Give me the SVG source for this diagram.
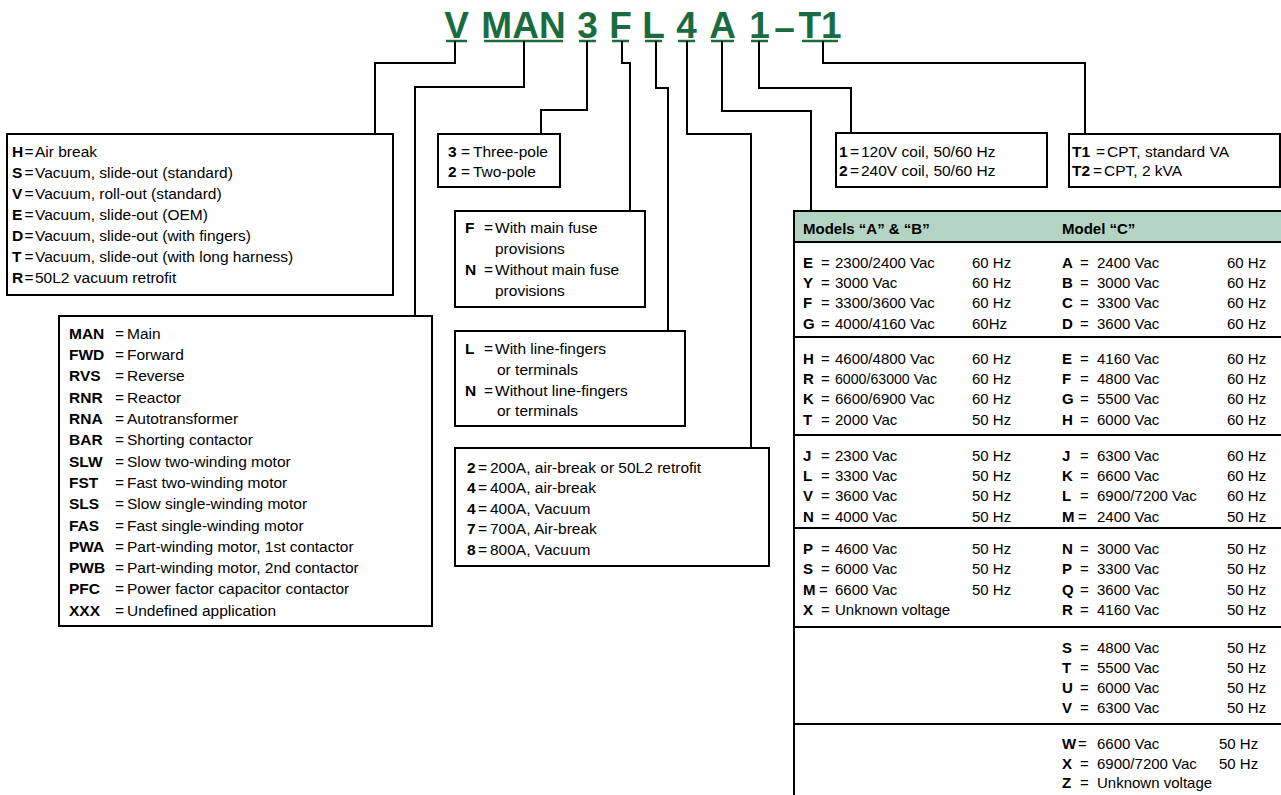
<svg xmlns="http://www.w3.org/2000/svg" width="1281" height="795" viewBox="0 0 1281 795">
<style>
text{font-family:"Liberation Sans",Arial,sans-serif;font-size:15.5px;fill:#000}
.tb text{font-size:15px}
.b{font-weight:bold}
.title{font-family:"Liberation Sans",Arial,sans-serif;font-size:37px;font-weight:bold;fill:#1b6b41;text-anchor:middle}
.ul{stroke:#1b6b41;stroke-width:2.5;fill:none}
.box{fill:#fff;stroke:#000;stroke-width:2}
.con{fill:none;stroke:#000;stroke-width:2}
.sep{stroke:#000;stroke-width:2}
</style>
<rect width="1281" height="795" fill="#fff"/>
<g id="title">
<text class="title" x="456.5" y="38">V</text>
<text class="title" x="523.5" y="38">MAN</text>
<text class="title" x="587.5" y="38">3</text>
<text class="title" x="620.5" y="38">F</text>
<text class="title" x="653.5" y="38">L</text>
<text class="title" x="686.5" y="38">4</text>
<text class="title" x="722.5" y="38">A</text>
<text class="title" x="759.5" y="38">1</text>
<text class="title" x="784.5" y="40">–</text>
<text class="title" x="820" y="38">T1</text>
<path class="ul" d="M446,41H467M484,41H563M579,41H596M612,41H629M645,41H662M678,41H695M711,41H734M751,41H768M802,41H838"/>
</g>
<g id="connectors">
<path class="con" d="M455,41V63H375V134"/>
<path class="con" d="M524,41V87H415V316"/>
<path class="con" d="M587,41V110H541V134"/>
<path class="con" d="M622,41V63H630V211"/>
<path class="con" d="M656,41V88H668V331"/>
<path class="con" d="M687,41V134H751V448"/>
<path class="con" d="M722,41V111H811V211"/>
<path class="con" d="M759,41V88H851V133"/>
<path class="con" d="M823,41V63H1085V134"/>
</g>
<g id="box-type">
<rect class="box" x="7" y="134" width="386" height="161"/>
<text y="157"><tspan x="12" class="b">H</tspan><tspan x="24.5">=</tspan><tspan x="35">Air break</tspan></text>
<text y="178"><tspan x="12" class="b">S</tspan><tspan x="24.5">=</tspan><tspan x="35">Vacuum, slide-out (standard)</tspan></text>
<text y="199"><tspan x="12" class="b">V</tspan><tspan x="24.5">=</tspan><tspan x="35">Vacuum, roll-out (standard)</tspan></text>
<text y="220"><tspan x="12" class="b">E</tspan><tspan x="24.5">=</tspan><tspan x="35">Vacuum, slide-out (OEM)</tspan></text>
<text y="241"><tspan x="12" class="b">D</tspan><tspan x="24.5">=</tspan><tspan x="35">Vacuum, slide-out (with fingers)</tspan></text>
<text y="262"><tspan x="12" class="b">T</tspan><tspan x="24.5">=</tspan><tspan x="35">Vacuum, slide-out (with long harness)</tspan></text>
<text y="283"><tspan x="12" class="b">R</tspan><tspan x="24.5">=</tspan><tspan x="35">50L2 vacuum retrofit</tspan></text>
</g>
<g id="box-application">
<rect class="box" x="59" y="316" width="373" height="310"/>
<text y="338.8"><tspan x="69" class="b">MAN</tspan><tspan x="115">=</tspan><tspan x="127">Main</tspan></text>
<text y="360.1"><tspan x="69" class="b">FWD</tspan><tspan x="115">=</tspan><tspan x="127">Forward</tspan></text>
<text y="381.4"><tspan x="69" class="b">RVS</tspan><tspan x="115">=</tspan><tspan x="127">Reverse</tspan></text>
<text y="402.7"><tspan x="69" class="b">RNR</tspan><tspan x="115">=</tspan><tspan x="127">Reactor</tspan></text>
<text y="424"><tspan x="69" class="b">RNA</tspan><tspan x="115">=</tspan><tspan x="127">Autotransformer</tspan></text>
<text y="445.3"><tspan x="69" class="b">BAR</tspan><tspan x="115">=</tspan><tspan x="127">Shorting contactor</tspan></text>
<text y="466.6"><tspan x="69" class="b">SLW</tspan><tspan x="115">=</tspan><tspan x="127">Slow two-winding motor</tspan></text>
<text y="487.9"><tspan x="69" class="b">FST</tspan><tspan x="115">=</tspan><tspan x="127">Fast two-winding motor</tspan></text>
<text y="509.2"><tspan x="69" class="b">SLS</tspan><tspan x="115">=</tspan><tspan x="127">Slow single-winding motor</tspan></text>
<text y="530.5"><tspan x="69" class="b">FAS</tspan><tspan x="115">=</tspan><tspan x="127">Fast single-winding motor</tspan></text>
<text y="551.8"><tspan x="69" class="b">PWA</tspan><tspan x="115">=</tspan><tspan x="127">Part-winding motor, 1st contactor</tspan></text>
<text y="573.1"><tspan x="69" class="b">PWB</tspan><tspan x="115">=</tspan><tspan x="127">Part-winding motor, 2nd contactor</tspan></text>
<text y="594.4"><tspan x="69" class="b">PFC</tspan><tspan x="115">=</tspan><tspan x="127">Power factor capacitor contactor</tspan></text>
<text y="615.7"><tspan x="69" class="b">XXX</tspan><tspan x="115">=</tspan><tspan x="127">Undefined application</tspan></text>
</g>
<g id="box-poles">
<rect class="box" x="438" y="134" width="122" height="53"/>
<text y="156.5"><tspan x="448" class="b">3</tspan><tspan x="461">=</tspan><tspan x="473">Three-pole</tspan></text>
<text y="177"><tspan x="448" class="b">2</tspan><tspan x="461">=</tspan><tspan x="473">Two-pole</tspan></text>
</g>
<g id="box-fuse">
<rect class="box" x="455" y="211" width="190" height="96"/>
<text y="233"><tspan x="465" class="b">F</tspan><tspan x="484">=</tspan><tspan x="495">With main fuse</tspan></text>
<text y="254"><tspan x="495">provisions</tspan></text>
<text y="275"><tspan x="465" class="b">N</tspan><tspan x="484">=</tspan><tspan x="495">Without main fuse</tspan></text>
<text y="296"><tspan x="495">provisions</tspan></text>
</g>
<g id="box-line">
<rect class="box" x="455" y="331" width="230" height="95"/>
<text y="354"><tspan x="465" class="b">L</tspan><tspan x="484">=</tspan><tspan x="495">With line-fingers</tspan></text>
<text y="374.5"><tspan x="497">or terminals</tspan></text>
<text y="395.5"><tspan x="465" class="b">N</tspan><tspan x="484">=</tspan><tspan x="495">Without line-fingers</tspan></text>
<text y="416"><tspan x="497">or terminals</tspan></text>
</g>
<g id="box-amps">
<rect class="box" x="455" y="448" width="314" height="118"/>
<text y="472.5"><tspan x="467" class="b">2</tspan><tspan x="478">=</tspan><tspan x="490">200A, air-break or 50L2 retrofit</tspan></text>
<text y="493"><tspan x="467" class="b">4</tspan><tspan x="478">=</tspan><tspan x="490">400A, air-break</tspan></text>
<text y="513.5"><tspan x="467" class="b">4</tspan><tspan x="478">=</tspan><tspan x="490">400A, Vacuum</tspan></text>
<text y="534"><tspan x="467" class="b">7</tspan><tspan x="478">=</tspan><tspan x="490">700A, Air-break</tspan></text>
<text y="555"><tspan x="467" class="b">8</tspan><tspan x="478">=</tspan><tspan x="490">800A, Vacuum</tspan></text>
</g>
<g id="box-coil">
<rect class="box" x="836" y="133" width="211" height="54"/>
<text y="156.5"><tspan x="839" class="b">1</tspan><tspan x="850">=</tspan><tspan x="861">120V coil, 50/60 Hz</tspan></text>
<text y="176"><tspan x="839" class="b">2</tspan><tspan x="850">=</tspan><tspan x="861">240V coil, 50/60 Hz</tspan></text>
</g>
<g id="box-cpt">
<rect class="box" x="1069" y="134" width="211" height="53"/>
<text y="156.5"><tspan x="1072" class="b">T1</tspan><tspan x="1096">=</tspan><tspan x="1107">CPT, standard VA</tspan></text>
<text y="176"><tspan x="1072" class="b">T2</tspan><tspan x="1093">=</tspan><tspan x="1104">CPT, 2 kVA</tspan></text>
</g>
<g id="table-voltage" class="tb">
<rect x="794" y="211" width="495" height="31" fill="#b4d4c3"/>
<rect x="794" y="211" width="495" height="600" fill="none" stroke="#000" stroke-width="2"/>
<path class="sep" d="M794,242H1281M794,337H1281M794,435H1281M794,528H1281M794,627H1281M794,724H1281"/>
<text y="234" class="b"><tspan x="803">Models “A” &amp; “B”</tspan><tspan x="1062">Model “C”</tspan></text>
<text y="267.8"><tspan x="803" class="b">E</tspan><tspan x="821">=</tspan><tspan x="835">2300/2400 Vac</tspan><tspan x="972">60 Hz</tspan><tspan x="1062" class="b">A</tspan><tspan x="1080">=</tspan><tspan x="1097">2400 Vac</tspan><tspan x="1227">60 Hz</tspan></text>
<text y="288.1"><tspan x="803" class="b">Y</tspan><tspan x="821">=</tspan><tspan x="835">3000 Vac</tspan><tspan x="972">60 Hz</tspan><tspan x="1062" class="b">B</tspan><tspan x="1080">=</tspan><tspan x="1097">3000 Vac</tspan><tspan x="1227">60 Hz</tspan></text>
<text y="308.4"><tspan x="803" class="b">F</tspan><tspan x="821">=</tspan><tspan x="835">3300/3600 Vac</tspan><tspan x="972">60 Hz</tspan><tspan x="1062" class="b">C</tspan><tspan x="1080">=</tspan><tspan x="1097">3300 Vac</tspan><tspan x="1227">60 Hz</tspan></text>
<text y="328.7"><tspan x="803" class="b">G</tspan><tspan x="821">=</tspan><tspan x="835">4000/4160 Vac</tspan><tspan x="972">60Hz</tspan><tspan x="1062" class="b">D</tspan><tspan x="1080">=</tspan><tspan x="1097">3600 Vac</tspan><tspan x="1227">60 Hz</tspan></text>
<text y="363.5"><tspan x="803" class="b">H</tspan><tspan x="821">=</tspan><tspan x="835">4600/4800 Vac</tspan><tspan x="972">60 Hz</tspan><tspan x="1062" class="b">E</tspan><tspan x="1080">=</tspan><tspan x="1097">4160 Vac</tspan><tspan x="1227">60 Hz</tspan></text>
<text y="383.5"><tspan x="803" class="b">R</tspan><tspan x="821">=</tspan><tspan x="835" textLength="102" lengthAdjust="spacingAndGlyphs">6000/63000 Vac</tspan><tspan x="972">60 Hz</tspan><tspan x="1062" class="b">F</tspan><tspan x="1080">=</tspan><tspan x="1097">4800 Vac</tspan><tspan x="1227">60 Hz</tspan></text>
<text y="404"><tspan x="803" class="b">K</tspan><tspan x="821">=</tspan><tspan x="835">6600/6900 Vac</tspan><tspan x="972">60 Hz</tspan><tspan x="1062" class="b">G</tspan><tspan x="1080">=</tspan><tspan x="1097">5500 Vac</tspan><tspan x="1227">60 Hz</tspan></text>
<text y="424.5"><tspan x="803" class="b">T</tspan><tspan x="821">=</tspan><tspan x="835">2000 Vac</tspan><tspan x="972">50 Hz</tspan><tspan x="1062" class="b">H</tspan><tspan x="1080">=</tspan><tspan x="1097">6000 Vac</tspan><tspan x="1227">60 Hz</tspan></text>
<text y="460.5"><tspan x="803" class="b">J</tspan><tspan x="821">=</tspan><tspan x="835">2300 Vac</tspan><tspan x="972">50 Hz</tspan><tspan x="1062" class="b">J</tspan><tspan x="1080">=</tspan><tspan x="1097">6300 Vac</tspan><tspan x="1227">60 Hz</tspan></text>
<text y="480.5"><tspan x="803" class="b">L</tspan><tspan x="821">=</tspan><tspan x="835">3300 Vac</tspan><tspan x="972">50 Hz</tspan><tspan x="1062" class="b">K</tspan><tspan x="1080">=</tspan><tspan x="1097">6600 Vac</tspan><tspan x="1227">60 Hz</tspan></text>
<text y="501"><tspan x="803" class="b">V</tspan><tspan x="821">=</tspan><tspan x="835">3600 Vac</tspan><tspan x="972">50 Hz</tspan><tspan x="1062" class="b">L</tspan><tspan x="1080">=</tspan><tspan x="1097">6900/7200 Vac</tspan><tspan x="1227">60 Hz</tspan></text>
<text y="521.5"><tspan x="803" class="b">N</tspan><tspan x="821">=</tspan><tspan x="835">4000 Vac</tspan><tspan x="972">50 Hz</tspan><tspan x="1062" class="b">M</tspan><tspan x="1078">=</tspan><tspan x="1097">2400 Vac</tspan><tspan x="1227">50 Hz</tspan></text>
<text y="553.5"><tspan x="803" class="b">P</tspan><tspan x="821">=</tspan><tspan x="835">4600 Vac</tspan><tspan x="972">50 Hz</tspan><tspan x="1062" class="b">N</tspan><tspan x="1080">=</tspan><tspan x="1097">3000 Vac</tspan><tspan x="1227">50 Hz</tspan></text>
<text y="574"><tspan x="803" class="b">S</tspan><tspan x="821">=</tspan><tspan x="835">6000 Vac</tspan><tspan x="972">50 Hz</tspan><tspan x="1062" class="b">P</tspan><tspan x="1080">=</tspan><tspan x="1097">3300 Vac</tspan><tspan x="1227">50 Hz</tspan></text>
<text y="594.5"><tspan x="803" class="b">M</tspan><tspan x="819">=</tspan><tspan x="835">6600 Vac</tspan><tspan x="972">50 Hz</tspan><tspan x="1062" class="b">Q</tspan><tspan x="1080">=</tspan><tspan x="1097">3600 Vac</tspan><tspan x="1227">50 Hz</tspan></text>
<text y="615"><tspan x="803" class="b">X</tspan><tspan x="821">=</tspan><tspan x="835">Unknown voltage</tspan><tspan x="1062" class="b">R</tspan><tspan x="1080">=</tspan><tspan x="1097">4160 Vac</tspan><tspan x="1227">50 Hz</tspan></text>
<text y="652.5"><tspan x="1062" class="b">S</tspan><tspan x="1080">=</tspan><tspan x="1097">4800 Vac</tspan><tspan x="1227">50 Hz</tspan></text>
<text y="672.5"><tspan x="1062" class="b">T</tspan><tspan x="1080">=</tspan><tspan x="1097">5500 Vac</tspan><tspan x="1227">50 Hz</tspan></text>
<text y="692.5"><tspan x="1062" class="b">U</tspan><tspan x="1080">=</tspan><tspan x="1097">6000 Vac</tspan><tspan x="1227">50 Hz</tspan></text>
<text y="712.5"><tspan x="1062" class="b">V</tspan><tspan x="1080">=</tspan><tspan x="1097">6300 Vac</tspan><tspan x="1227">50 Hz</tspan></text>
<text y="748.5"><tspan x="1062" class="b">W</tspan><tspan x="1078">=</tspan><tspan x="1097">6600 Vac</tspan><tspan x="1219">50 Hz</tspan></text>
<text y="768.5"><tspan x="1062" class="b">X</tspan><tspan x="1080">=</tspan><tspan x="1097">6900/7200 Vac</tspan><tspan x="1219">50 Hz</tspan></text>
<text y="787.5"><tspan x="1062" class="b">Z</tspan><tspan x="1080">=</tspan><tspan x="1097">Unknown voltage</tspan></text>
</g>
</svg>
